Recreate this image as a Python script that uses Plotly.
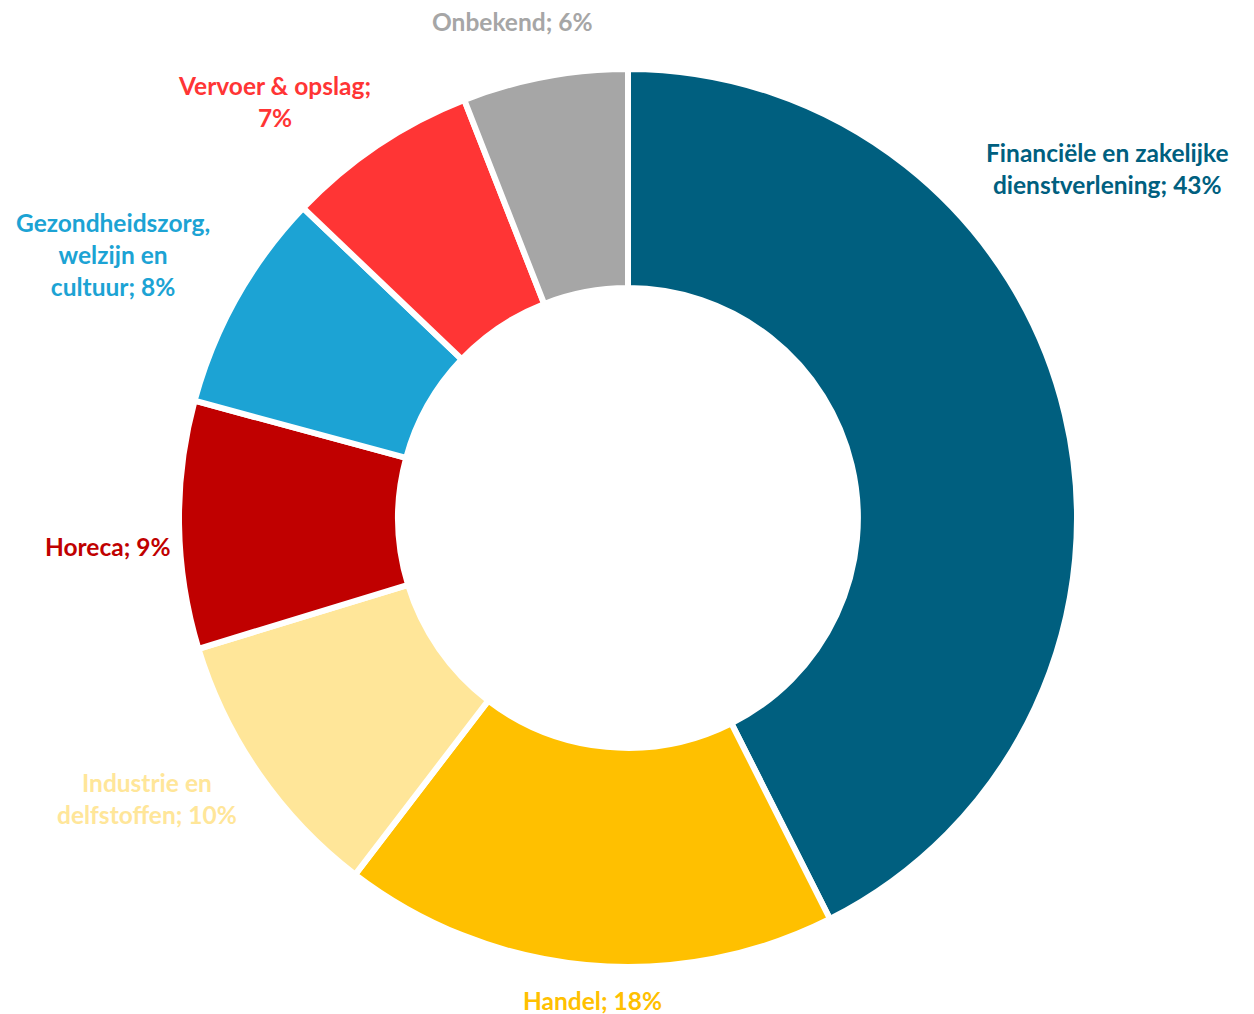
import plotly.graph_objects as go

categories = ["Financiële en zakelijke dienstverlening", "Handel", "Industrie en delfstoffen",
              "Horeca", "Gezondheidszorg, welzijn en cultuur", "Vervoer & opslag", "Onbekend"]
values = [43, 18, 10, 9, 8, 7, 6]
colors = ["#005F7F", "#FFC000", "#FFE699", "#C00000", "#1CA3D4", "#FF3535", "#A6A6A6"]
label_texts = ["Financiële en zakelijke<br>dienstverlening; 43%", "Handel; 18%",
               "Industrie en<br>delfstoffen; 10%", "Horeca; 9%",
               "Gezondheidszorg,<br>welzijn en<br>cultuur; 8%", "Vervoer & opslag;<br>7%",
               "Onbekend; 6%"]
# label anchor positions in window pixels (center x, center y)
label_pos = [(1107, 168), (592, 1000), (147, 798), (108, 546), (113, 254), (274, 101), (512, 22)]

W, H = 1254, 1014
OFF = 8  # browser body margin
cx, cy, r = 628 - OFF, 518 - OFF, 449

fig = go.Figure(go.Pie(
    labels=categories, values=values, sort=False, direction="clockwise", rotation=0,
    hole=0.512, marker=dict(colors=colors, line=dict(color="white", width=6)),
    textinfo="none", hoverinfo="label+percent", showlegend=False,
    domain=dict(x=[(cx - r) / W, (cx + r) / W], y=[(H - cy - r) / H, (H - cy + r) / H]),
))

for txt, col, (px, py) in zip(label_texts, colors, label_pos):
    fig.add_annotation(x=(px - OFF) / W, y=1 - (py - OFF) / H, xref="paper", yref="paper", text=txt,
                       showarrow=False, xanchor="center", yanchor="middle", align="center",
                       font=dict(family="Lato", size=24.5, color=col, weight="bold"))

fig.update_layout(width=W, height=H, margin=dict(l=0, r=0, t=0, b=0),
                  paper_bgcolor="white", plot_bgcolor="white")
fig.write_html("out.html")
